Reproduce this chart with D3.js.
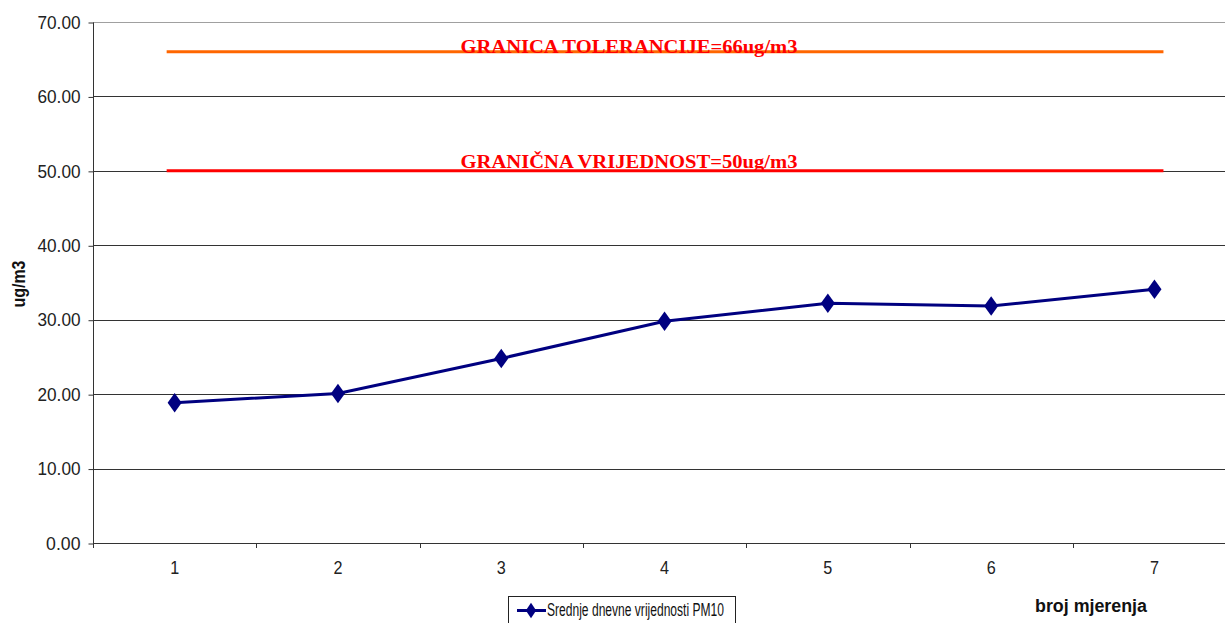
<!DOCTYPE html>
<html>
<head>
<meta charset="utf-8">
<script src="https://cdn.jsdelivr.net/npm/d3@7"></script>
<style>
  html, body { margin: 0; padding: 0; background: #fff; }
  svg { display: block; }
</style>
</head>
<body>
<svg id="chart" width="1225" height="623"></svg>
<script>
const categories = ["1", "2", "3", "4", "5", "6", "7"];
const pm10Values = [18.85, 20.1, 24.8, 29.8, 32.2, 31.85, 34.1];
const yTicks = [0, 10, 20, 30, 40, 50, 60, 70];
const toleranceValue = 66;
const limitValue = 50;
const toleranceLabel = "GRANICA TOLERANCIJE=66ug/m3";
const limitLabel = "GRANIČNA VRIJEDNOST=50ug/m3";
const seriesName = "Srednje dnevne vrijednosti PM10";
const yTitle = "ug/m3";
const xTitle = "broj mjerenja";

(function () {
const svg = d3.select("#chart");
const mLeft = 93, mTop = 22, mBottom = 543;
const bandW = 163.3;
const mRight = mLeft + bandW * categories.length;
const sans = "'Liberation Sans', Arial, sans-serif";

const x = d3.scaleBand().domain(categories).range([mLeft, mRight]).padding(0);
const y = d3.scaleLinear().domain([0, 70]).range([mBottom, mTop]);
const cx = d => x(d) + x.bandwidth() / 2;

// gridlines
svg.append("g").selectAll("line").data(yTicks.filter(t => t > 0)).join("line")
  .attr("x1", mLeft).attr("x2", 1225)
  .attr("y1", d => Math.round(y(d)) + 0.5).attr("y2", d => Math.round(y(d)) + 0.5)
  .attr("stroke", d => d === 70 ? "#a0a0a0" : "#333")
  .attr("stroke-width", 1);

// y axis
const fmt = d3.format(".2f");
const yAxis = d3.axisLeft(y).tickValues(yTicks).tickSize(5).tickPadding(8).tickFormat(fmt);
const gy = svg.append("g").attr("transform", `translate(${mLeft + 0.5},0.5)`).call(yAxis);
gy.select(".domain").attr("stroke", "#333").attr("d", `M0,${mTop}V${mBottom}`);
gy.selectAll(".tick line").attr("stroke", "#333");
gy.selectAll(".tick text").attr("fill", "#222")
  .attr("textLength", d => fmt(d).length * 8.6).attr("lengthAdjust", "spacingAndGlyphs")
  .style("font-family", sans).style("font-size", "18px");

// x axis
const xAxis = d3.axisBottom(x).tickSize(0).tickPadding(18);
const gx = svg.append("g").attr("transform", `translate(0,${mBottom + 0.5})`).call(xAxis);
gx.select(".domain").attr("stroke", "#333").attr("d", `M${mLeft},0H1225`);
gx.selectAll(".tick text").attr("fill", "#222")
  .attr("textLength", 9).attr("lengthAdjust", "spacingAndGlyphs")
  .style("font-family", sans).style("font-size", "18px");
// boundary ticks
svg.append("g").selectAll("line").data(categories).join("line")
  .attr("x1", d => Math.round(x(d)) + 0.5).attr("x2", d => Math.round(x(d)) + 0.5)
  .attr("y1", mBottom).attr("y2", mBottom + 5)
  .attr("stroke", "#333");

// reference lines
const refData = [
  { v: toleranceValue, color: "#ff6600", label: toleranceLabel, dy: 1.5 },
  { v: limitValue, color: "#ff0000", label: limitLabel, dy: -2.5 }
];
svg.append("g").selectAll("line").data(refData).join("line")
  .attr("x1", cx(categories[0]) - 8).attr("x2", cx(categories[categories.length - 1]) + 9)
  .attr("y1", d => y(d.v)).attr("y2", d => y(d.v))
  .attr("stroke", d => d.color).attr("stroke-width", 3);
svg.append("g").selectAll("text").data(refData).join("text")
  .attr("x", 629)
  .attr("y", d => y(d.v) + d.dy)
  .attr("text-anchor", "middle")
  .attr("fill", "#ff0000")
  .attr("textLength", 337).attr("lengthAdjust", "spacingAndGlyphs")
  .style("font-family", "'Liberation Serif', 'Times New Roman', serif")
  .style("font-weight", "bold").style("font-size", "19px")
  .text(d => d.label);

// series line
const line = d3.line().x((d, i) => cx(categories[i])).y(d => y(d));
svg.append("path").datum(pm10Values)
  .attr("d", line).attr("fill", "none")
  .attr("stroke", "#000080").attr("stroke-width", 3);
const diamond = d3.symbol().type(d3.symbolDiamond).size(110);
svg.append("g").selectAll("path").data(pm10Values).join("path")
  .attr("d", diamond)
  .attr("transform", (d, i) => `translate(${cx(categories[i])},${y(d)}) scale(1.25,1)`)
  .attr("fill", "#000080");

// axis titles
svg.append("text")
  .attr("transform", `translate(25,284) rotate(-90)`)
  .attr("text-anchor", "middle")
  .attr("textLength", 47).attr("lengthAdjust", "spacingAndGlyphs")
  .style("font-family", sans)
  .style("font-weight", "bold").style("font-size", "18px")
  .attr("fill", "#111")
  .text(yTitle);
svg.append("text")
  .attr("x", 1091).attr("y", 612)
  .attr("text-anchor", "middle")
  .attr("textLength", 112).attr("lengthAdjust", "spacingAndGlyphs")
  .style("font-family", sans)
  .style("font-weight", "bold").style("font-size", "18px")
  .attr("fill", "#111")
  .text(xTitle);

// legend
const lg = svg.append("g");
lg.append("rect").attr("x", 508.5).attr("y", 596.5).attr("width", 227).attr("height", 32)
  .attr("fill", "#fff").attr("stroke", "#222").attr("stroke-width", 1);
lg.append("line").attr("x1", 517).attr("x2", 546).attr("y1", 610.5).attr("y2", 610.5)
  .attr("stroke", "#000080").attr("stroke-width", 3);
lg.append("path").attr("d", d3.symbol().type(d3.symbolDiamond).size(70))
  .attr("transform", "translate(531,610.5) scale(1.15,1)")
  .attr("fill", "#000080");
lg.append("text").attr("x", 547).attr("y", 616)
  .attr("textLength", 177).attr("lengthAdjust", "spacingAndGlyphs")
  .style("font-family", sans).style("font-size", "18px")
  .attr("fill", "#111")
  .text(seriesName);
})();
</script>
</body>
</html>
